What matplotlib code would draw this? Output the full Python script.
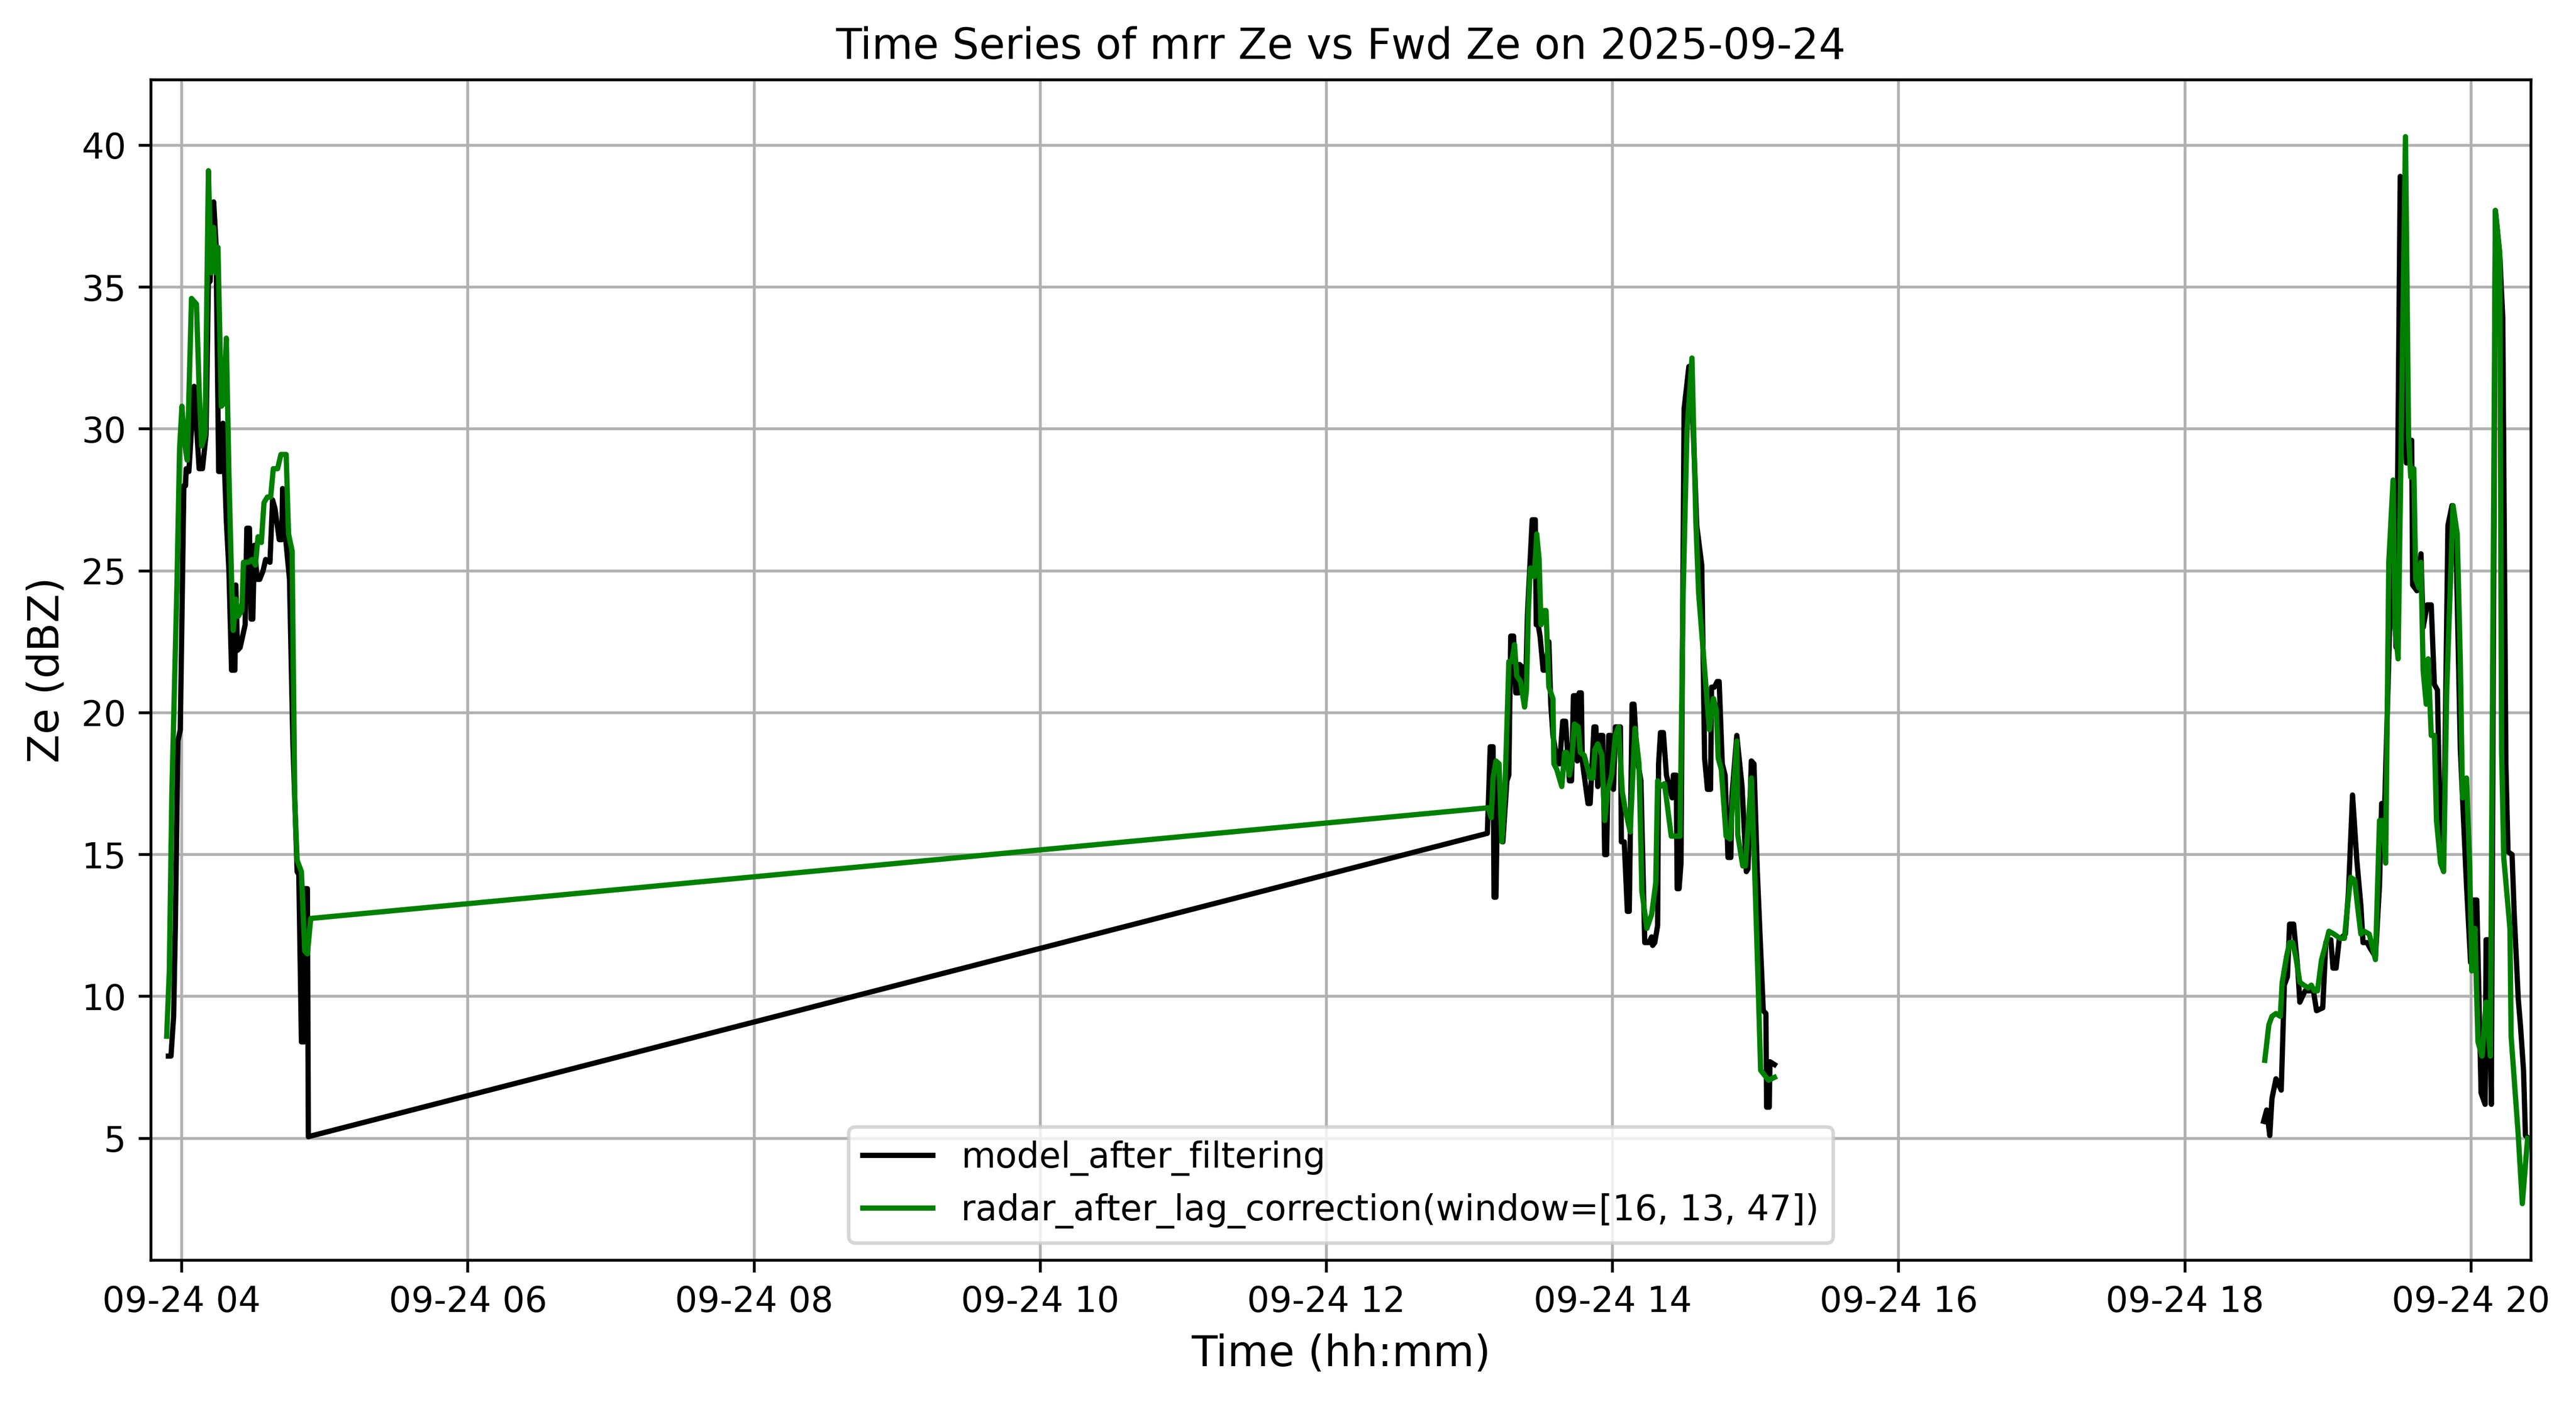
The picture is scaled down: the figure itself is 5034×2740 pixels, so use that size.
import numpy as np
import pandas as pd
import matplotlib
matplotlib.use("Agg")
import matplotlib.pyplot as plt
import matplotlib.dates as mdates

# times are minutes after 00:00 on 2025-09-24
# --- model_after_filtering (black) ---
model_t_a = [234.4, 235.5, 236.6, 237.3, 238.4, 239.4, 240.9, 241.6, 241.9, 243.0,
             245.2, 247.3, 248.7, 250.2, 251.2, 251.9, 253.4, 254.4, 255.5, 256.6,
             257.3, 258.7, 259.8, 260.9, 262.3, 262.7, 263.4, 264.5, 266.6, 267.3,
             268.4, 269.1, 269.8, 270.5, 271.6, 272.7, 274.1, 275.2, 277.0, 278.1,
             279.1, 280.9, 282.0, 282.3, 283.4, 285.2, 286.6, 288.4, 289.1, 290.2,
             291.3, 291.6, 292.7, 293.1]
model_z_a = [7.9, 7.9, 9.3, 12.3, 19.0, 19.4, 28.0, 28.0, 28.6, 28.5,
             31.5, 28.6, 28.6, 29.8, 35.2, 35.2, 38.0, 36.5, 28.5, 28.5,
             30.2, 26.8, 25.0, 21.5, 21.5, 24.5, 22.2, 22.3, 23.1, 26.5,
             26.5, 23.3, 23.3, 25.9, 24.7, 24.7, 25.0, 25.4, 25.3, 27.5,
             27.2, 26.1, 26.1, 27.9, 26.3, 24.7, 19.0, 14.4, 14.3, 8.4,
             8.4, 13.8, 13.8, 5.06]

model_t_b = [787.5, 788.7, 789.9, 790.3, 791.1, 792.0, 794.0, 795.7, 796.5, 797.3,
             798.5, 799.4, 800.6, 801.0, 802.2, 803.5, 804.3, 806.3, 807.6, 808.0,
             808.8, 809.6, 810.9, 811.7, 813.3, 814.1, 815.0, 817.0, 817.8, 819.1,
             820.3, 821.9, 822.8, 823.6, 824.8, 825.2, 826.0, 826.9, 827.3, 829.7,
             830.6, 832.2, 833.0, 833.8, 834.7, 835.9, 836.7, 837.5, 838.4, 839.2,
             839.6, 840.4, 841.2, 843.3, 843.7, 844.9, 846.2, 847.0, 848.2, 849.0,
             850.3, 851.9, 853.5, 855.2, 856.4, 856.8, 857.7, 858.9, 859.3, 860.1,
             861.3, 862.6, 865.0, 865.5, 866.7, 867.1, 867.9, 868.7, 870.0, 872.0,
             873.7, 875.3, 877.4, 878.6, 879.8, 881.1, 881.5, 882.7, 883.9, 884.7,
             886.0, 887.2, 888.4, 889.6, 890.0, 892.1, 894.3, 896.1, 896.8, 898.2,
             899.3, 900.7, 903.2, 904.3, 904.6, 905.7, 906.0, 907.9]
model_z_b = [15.75, 18.8, 18.8, 13.5, 13.5, 18.2, 15.45, 17.6, 17.8, 22.7,
             22.7, 20.7, 20.7, 21.7, 21.6, 20.7, 23.45, 26.8, 26.8, 23.1,
             23.1, 22.7, 21.5, 21.5, 22.5, 20.3, 19.2, 18.2, 18.2, 19.7,
             19.7, 17.6, 17.6, 20.6, 20.6, 18.3, 20.7, 20.7, 18.3, 16.8,
             16.8, 19.5, 19.5, 17.4, 19.2, 19.2, 15.0, 15.0, 19.2, 19.2,
             17.4, 17.3, 19.5, 19.5, 15.45, 15.45, 13.0, 13.0, 20.3, 20.3,
             18.4, 17.6, 11.9, 11.9, 12.1, 11.8, 11.9, 12.5, 18.2, 19.3,
             19.3, 17.8, 17.0, 17.8, 17.8, 13.8, 13.8, 14.7, 30.7, 32.2,
             30.3, 26.6, 25.2, 18.4, 17.3, 17.3, 20.9, 20.9, 21.1, 21.1,
             18.2, 17.8, 14.9, 14.9, 17.0, 19.2, 17.4, 14.4, 14.5, 18.3,
             18.2, 14.4, 9.5, 9.4, 6.1, 6.1, 7.7, 7.6]

model_t_c = [1113.0, 1114.3, 1115.6, 1116.5, 1118.2, 1120.4, 1121.7, 1123.0, 1123.9, 1125.6,
             1127.3, 1128.2, 1130.4, 1133.9, 1135.2, 1137.8, 1139.1, 1141.2, 1142.1, 1143.4,
             1144.7, 1147.3, 1148.6, 1150.3, 1152.1, 1153.8, 1154.7, 1156.4, 1157.7, 1159.9,
             1161.6, 1162.5, 1163.8, 1166.8, 1168.6, 1170.3, 1172.9, 1175.1, 1175.5, 1177.3,
             1179.0, 1179.9, 1181.6, 1183.3, 1184.6, 1185.9, 1187.2, 1188.5, 1190.3, 1192.0,
             1193.75, 1195.5, 1198.1, 1199.8, 1201.1, 1202.4, 1204.2, 1205.9, 1206.3, 1207.2,
             1208.5, 1210.2, 1212.0, 1213.3, 1214.6, 1215.5, 1217.2, 1218.1, 1219.8, 1220.7,
             1222.0, 1222.8, 1224.1]
model_z_c = [5.6, 6.0, 5.1, 6.4, 7.1, 6.7, 10.4, 10.7, 12.55, 12.55,
             11.0, 9.8, 10.2, 10.2, 9.5, 9.6, 11.9, 12.0, 11.0, 11.0,
             12.0, 12.2, 13.7, 17.1, 14.8, 13.2, 11.9, 11.9, 11.7, 11.4,
             13.9, 16.8, 16.8, 25.8, 22.3, 38.9, 28.8, 29.6, 24.5, 24.3,
             25.6, 23.0, 23.8, 23.8, 21.0, 20.8, 15.2, 14.9, 26.6, 27.3,
             25.8, 18.7, 13.9, 11.2, 13.4, 13.4, 6.6, 6.2, 12.0, 12.0,
             6.2, 37.7, 36.2, 33.9, 18.2, 15.1, 15.0, 12.9, 9.9, 9.0,
             7.4, 5.1, 5.0]

# --- radar_after_lag_correction (green) ---
radar_t_a = [233.7, 234.8, 235.85, 238.0, 239.1, 240.1, 241.2, 242.3, 244.1, 246.2,
             247.3, 248.4, 249.8, 251.2, 252.3, 253.4, 254.4, 255.2, 256.6, 257.7,
             258.7, 259.8, 260.9, 261.6, 262.7, 263.7, 265.2, 265.9, 268.0, 269.5,
             270.9, 272.0, 273.4, 274.5, 275.9, 277.3, 278.4, 280.2, 281.6, 283.8,
             284.8, 286.3, 287.4, 288.4, 290.2, 291.6, 292.7, 294.1]
radar_z_a = [8.6, 10.9, 17.1, 24.5, 29.3, 30.8, 29.5, 28.9, 34.6, 34.4,
             31.4, 29.4, 29.8, 39.1, 35.5, 37.1, 35.5, 36.4, 30.8, 30.9,
             33.2, 28.4, 24.7, 22.9, 24.0, 23.4, 23.6, 25.3, 25.3, 25.4,
             25.2, 26.2, 26.0, 27.4, 27.6, 27.6, 28.6, 28.6, 29.1, 29.1,
             26.3, 25.7, 16.9, 14.8, 14.4, 11.6, 11.5, 12.75]

radar_t_b = [787.9, 789.1, 789.9, 791.1, 792.4, 793.6, 794.8, 795.7, 796.5, 797.7,
             798.9, 799.8, 801.4, 803.1, 803.9, 804.7, 805.5, 807.2, 808.2, 809.2,
             810.0, 811.3, 812.1, 813.3, 815.0, 815.4, 816.6, 818.7, 819.9, 820.7,
             821.9, 822.8, 824.0, 825.6, 826.5, 828.1, 830.6, 831.8, 832.6, 833.8,
             835.5, 836.7, 837.9, 839.6, 841.2, 842.5, 844.1, 845.3, 847.4, 849.4,
             851.1, 852.3, 854.4, 856.4, 858.1, 858.9, 860.1, 861.8, 864.6, 866.7,
             868.3, 869.6, 871.2, 873.3, 874.9, 876.1, 879.0, 880.6, 882.3, 883.5,
             884.3, 885.6, 887.6, 889.3, 892.1, 892.5, 894.6, 895.7, 898.2, 899.6,
             901.1, 902.1, 905.4, 907.9]
radar_z_b = [16.65, 16.3, 17.7, 18.3, 18.2, 15.45, 17.2, 19.5, 21.8, 21.8,
             22.4, 21.3, 21.1, 20.2, 20.8, 23.6, 25.1, 24.8, 26.3, 25.4,
             23.1, 23.6, 23.6, 20.9, 20.5, 18.2, 18.0, 17.4, 18.6, 18.6,
             17.8, 18.2, 19.6, 19.5, 18.6, 18.5, 17.7, 17.7, 18.7, 18.9,
             18.5, 16.2, 17.2, 17.8, 19.2, 19.5, 17.2, 16.6, 15.8, 19.45,
             18.2, 13.7, 12.4, 12.9, 14.0, 17.6, 17.4, 17.5, 15.65, 15.65,
             15.65, 24.2, 29.9, 32.5, 26.8, 24.2, 21.1, 19.4, 20.5, 20.1,
             18.4, 18.0, 15.65, 15.55, 19.0, 15.7, 14.6, 14.6, 17.7, 14.4,
             10.3, 7.4, 7.05, 7.15]

radar_t_c = [1113.5, 1115.2, 1116.5, 1118.2, 1120.0, 1120.8, 1122.6, 1123.9, 1125.2, 1126.5,
             1128.2, 1129.9, 1131.7, 1133.0, 1134.3, 1135.6, 1137.3, 1138.6, 1140.4, 1142.5,
             1145.1, 1146.9, 1148.2, 1149.5, 1151.2, 1152.5, 1153.8, 1155.1, 1157.3, 1158.2,
             1159.9, 1161.6, 1162.9, 1164.2, 1165.5, 1167.3, 1168.1, 1169.4, 1172.5, 1173.8,
             1174.7, 1176.0, 1176.8, 1178.1, 1179.0, 1179.9, 1181.2, 1182.0, 1183.3, 1184.6,
             1185.5, 1187.2, 1188.5, 1189.8, 1192.45, 1194.2, 1195.5, 1196.4, 1198.1, 1199.4,
             1200.3, 1201.6, 1202.9, 1204.6, 1206.3, 1208.1, 1210.2, 1212.0, 1212.8, 1213.7,
             1216.3, 1216.8, 1219.8, 1221.5, 1223.7]
radar_z_c = [7.75, 9.0, 9.3, 9.4, 9.3, 10.5, 11.4, 11.9, 11.9, 11.4,
             10.5, 10.4, 10.3, 10.4, 10.2, 10.2, 11.3, 11.7, 12.3, 12.2,
             12.05, 12.05, 13.2, 14.2, 14.1, 13.1, 12.2, 12.3, 12.2, 11.9,
             11.3, 16.2, 16.2, 14.7, 25.3, 28.2, 23.0, 21.9, 40.3, 29.8,
             28.3, 28.6, 24.7, 24.4, 25.3, 21.5, 20.3, 21.9, 19.2, 19.2,
             16.2, 14.7, 14.4, 20.8, 27.3, 26.3, 21.8, 17.0, 17.7, 14.7,
             10.9, 12.4, 8.4, 7.9, 9.8, 7.9, 37.7, 36.2, 18.7, 14.9,
             12.4, 8.6, 5.1, 2.7, 5.0]

date = pd.Timestamp("2025-09-24")


def join(ta, za, tb, zb, tc, zc):
    # no data between the afternoon and evening segments -> NaN break
    t = np.concatenate([ta, tb, [(tb[-1] + tc[0]) / 2], tc])
    z = np.concatenate([za, zb, [np.nan], zc])
    return date + pd.to_timedelta(t, unit="min"), z


model_time, model_ze = join(model_t_a, model_z_a, model_t_b, model_z_b, model_t_c, model_z_c)
radar_time, radar_ze = join(radar_t_a, radar_z_a, radar_t_b, radar_z_b, radar_t_c, radar_z_c)

#%% Plot
fig = plt.figure(figsize=(5034 / 495, 2740 / 495), dpi=495)
ax = fig.add_axes([0.0586, 0.101, 0.9239, 0.842])

ax.plot(model_time, model_ze, color="black", linewidth=1.5, label="model_after_filtering")
ax.plot(radar_time, radar_ze, color="green", linewidth=1.5,
        label="radar_after_lag_correction(window=[16, 13, 47])")

ax.set_title("Time Series of mrr Ze vs Fwd Ze on 2025-09-24", fontsize=12)
ax.set_xlabel("Time (hh:mm)", fontsize=12)
ax.set_ylabel("Ze (dBZ)", fontsize=12)
ax.xaxis.set_major_locator(mdates.HourLocator(byhour=range(0, 24, 2)))
ax.xaxis.set_major_formatter(mdates.DateFormatter("%m-%d %H"))
ax.set_xlim(date + pd.Timedelta(minutes=227.1), date + pd.Timedelta(minutes=1225.1))
ax.set_ylim(0.7, 42.3)
ax.grid(True)
ax.legend(loc="lower center")

fig.savefig("out.png", dpi=495)
